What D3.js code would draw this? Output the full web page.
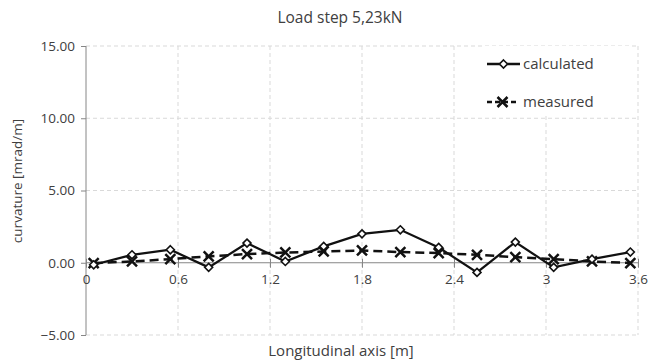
<!DOCTYPE html>
<html><head><meta charset="utf-8">
<script src="https://cdn.jsdelivr.net/npm/d3@7"></script>
<style>body{margin:0;background:#fff}svg{display:block}text{font-family:"Open Sans","Noto Sans",sans-serif;fill:#404040}</style>
</head><body><svg id="c" width="652" height="361"></svg>
<script>
const xPos = [0.05,0.3,0.55,0.8,1.05,1.3,1.55,1.8,2.05,2.3,2.55,2.8,3.05,3.3,3.55];
const calculated = [-0.14,0.55,0.9,-0.32,1.36,0.09,1.13,2.0,2.28,1.06,-0.67,1.43,-0.32,0.25,0.74];
const measured = [-0.02,0.09,0.25,0.44,0.6,0.71,0.78,0.85,0.74,0.67,0.55,0.39,0.25,0.09,-0.02];
const xTicks = [0,0.6,1.2,1.8,2.4,3,3.6];
const xTickLabels = ["0","0.6","1.2","1.8","2.4","3","3.6"];
const yTicks = [-5,0,5,10,15];
const title = "Load step 5,23kN";
const xLabel = "Longitudinal axis [m]";
const yLabel = "curvature [mrad/m]";
const seriesNames = ["calculated","measured"];

const svg = d3.select("#c");
const L=86,R=638,T=46,B=335;
const x = d3.scaleLinear().domain([0,3.6]).range([L,R]);
const y = d3.scaleLinear().domain([-5,15]).range([B,T]);

// gridlines
const g = svg.append("g");
g.selectAll(".hg").data(yTicks.filter(d=>d!==0)).join("line")
 .attr("x1",L).attr("x2",R).attr("y1",d=>y(d)).attr("y2",d=>y(d))
 .attr("stroke","#d9d9d9").attr("stroke-dasharray","4,3");
g.selectAll(".vg").data(xTicks.filter(d=>d!==0)).join("line")
 .attr("x1",d=>x(d)).attr("x2",d=>x(d)).attr("y1",T).attr("y2",B)
 .attr("stroke","#d9d9d9").attr("stroke-dasharray","4,3");

// y axis
const ya = svg.append("g").attr("transform",`translate(${L},0)`)
 .call(d3.axisLeft(y).tickValues(yTicks).tickFormat(d3.format(".2f")).tickSize(5).tickPadding(6));
ya.select(".domain").attr("stroke","#868686").attr("d",`M0,${B}V${T}`);
ya.selectAll(".tick line").attr("stroke","#868686");
ya.selectAll("text").attr("font-size",13.5).attr("fill","#404040").style("font-family","'Open Sans',sans-serif");

// x axis at y=0
const xa = svg.append("g").attr("transform",`translate(0,${y(0)})`)
 .call(d3.axisBottom(x).tickValues(xTicks).tickFormat((d,i)=>xTickLabels[i]).tickSize(5).tickPadding(7));
xa.select(".domain").attr("stroke","#868686").attr("d",`M${L},0H${R}`);
xa.selectAll(".tick line").attr("stroke","#868686").attr("y1",-4);
xa.selectAll("text").attr("font-size",13.5).attr("fill","#404040").style("font-family","'Open Sans',sans-serif");

// title & labels
svg.append("text").attr("x",340).attr("y",23).attr("text-anchor","middle").attr("font-size",15.5).text(title);
svg.append("text").attr("x",341).attr("y",356).attr("text-anchor","middle").attr("font-size",15).text(xLabel);
svg.append("text").attr("transform","translate(22,181) rotate(-90)").attr("text-anchor","middle").attr("font-size",13.5).text(yLabel);

const line = d3.line().x((d,i)=>x(xPos[i])).y(d=>y(d));
// measured
svg.append("path").datum(measured).attr("d",line).attr("fill","none").attr("stroke","#111")
 .attr("stroke-width",2.5).attr("stroke-dasharray","9,5");
// calculated
svg.append("path").datum(calculated).attr("d",line).attr("fill","none").attr("stroke","#111").attr("stroke-width",2.25);

function xMark(sel,cx,cy){
  const s=5;
  sel.append("path").attr("d",`M${cx-s},${cy-s}L${cx+s},${cy+s}M${cx-s},${cy+s}L${cx+s},${cy-s}`)
   .attr("stroke","#111").attr("stroke-width",2.5);
}
function dMark(sel,cx,cy){
  const s=4;
  sel.append("path").attr("d",`M${cx},${cy-s}L${cx+s},${cy}L${cx},${cy+s}L${cx-s},${cy}Z`)
   .attr("fill","#fff").attr("stroke","#111").attr("stroke-width",1.6);
}
const mg = svg.append("g");
measured.forEach((v,i)=>xMark(mg,x(xPos[i]),y(v)));
const cg = svg.append("g");
calculated.forEach((v,i)=>dMark(cg,x(xPos[i]),y(v)));

// legend
const lg = svg.append("g");
lg.append("rect").attr("x",482).attr("y",46).attr("width",150).attr("height",70).attr("fill","#fff");
lg.append("line").attr("x1",487).attr("x2",520).attr("y1",64).attr("y2",64).attr("stroke","#111").attr("stroke-width",2.5);
dMark(lg,503.5,64);
lg.append("text").attr("x",523).attr("y",69).attr("font-size",15).text(seriesNames[0]);
lg.append("line").attr("x1",487).attr("x2",518).attr("y1",102).attr("y2",102).attr("stroke","#111").attr("stroke-width",2.5).attr("stroke-dasharray","5,3");
xMark(lg,502.5,102);
lg.append("text").attr("x",523).attr("y",107).attr("font-size",15).text(seriesNames[1]);
</script></body></html>
